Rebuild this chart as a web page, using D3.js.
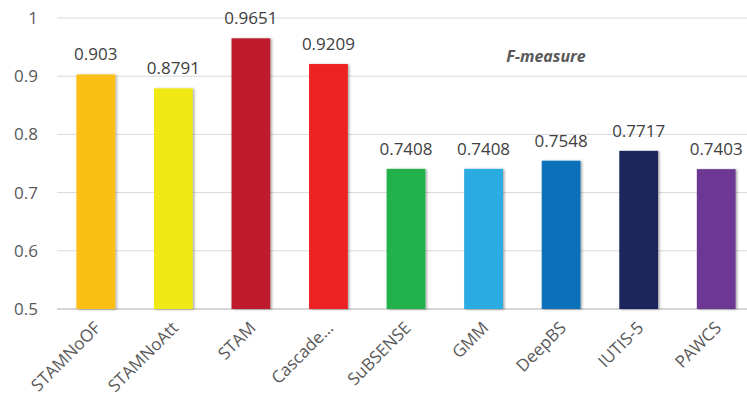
<!DOCTYPE html>
<html>
<head>
<meta charset="utf-8">
<script src="https://cdn.jsdelivr.net/npm/d3@7"></script>
<style>
  body { margin: 0; background: #fff; }
  text { font-family: "Open Sans", "Liberation Sans", sans-serif; }
</style>
</head>
<body>
<div id="chart"></div>
<script>
const methods = ['STAMNoOF', 'STAMNoAtt', 'STAM', 'Cascade...', 'SuBSENSE', 'GMM', 'DeepBS', 'IUTIS-5', 'PAWCS']
const fmeasure = [0.903, 0.8791, 0.9651, 0.9209, 0.7408, 0.7408, 0.7548, 0.7717, 0.7403]
const barColors = ['#fbbf12', '#f1e917', '#be1e2d', '#ee2024', '#22b14c', '#29abe2', '#1070ba', '#1d285c', '#6c3794']
const yTicks = [0.5, 0.6, 0.7, 0.8, 0.9, 1]

const width = 747, height = 400
const margin = { top: 18, right: -8, bottom: 91, left: 57 }

const svg = d3.select('#chart').append('svg')
  .attr('width', width).attr('height', height)

// soft shadow like the office chart
const defs = svg.append('defs')
const f = defs.append('filter').attr('id', 'shadow')
  .attr('x', '-20%').attr('y', '-5%').attr('width', '150%').attr('height', '110%')
f.append('feDropShadow').attr('dx', 1.5).attr('dy', 0.5).attr('stdDeviation', 1.2)
  .attr('flood-color', '#000').attr('flood-opacity', 0.35)

const x = d3.scaleBand()
  .domain(methods)
  .range([margin.left, width - margin.right])
  .paddingInner(0.5).paddingOuter(0.25)

const y = d3.scaleLinear()
  .domain([0.5, 1])
  .range([height - margin.bottom, margin.top])

// gridlines
svg.append('g')
  .selectAll('line')
  .data(yTicks)
  .join('line')
  .attr('x1', margin.left).attr('x2', width)
  .attr('y1', d => y(d)).attr('y2', d => y(d))
  .attr('stroke', d => d === 0.5 ? '#c8c8c8' : '#d9d9d9')
  .attr('stroke-width', d => d === 0.5 ? 1.5 : 1)

// y axis labels
const yAxis = d3.axisLeft(y).tickValues(yTicks).tickSize(0).tickPadding(19)
  .tickFormat(d => d3.format('')(d))
svg.append('g')
  .attr('transform', `translate(${margin.left},0)`)
  .call(yAxis)
  .call(g => g.select('.domain').remove())
  .selectAll('text')
  .attr('fill', '#595959')
  .style('font-size', '17px')

// bars
svg.append('g')
  .selectAll('rect')
  .data(methods)
  .join('rect')
  .attr('x', d => x(d))
  .attr('width', x.bandwidth())
  .attr('y', (d, i) => y(fmeasure[i]))
  .attr('height', (d, i) => y(0.5) - y(fmeasure[i]))
  .attr('fill', (d, i) => barColors[i])
  .attr('filter', 'url(#shadow)')

// value labels
svg.append('g')
  .selectAll('text')
  .data(methods)
  .join('text')
  .attr('x', d => x(d) + x.bandwidth() / 2)
  .attr('y', (d, i) => y(fmeasure[i]) - 14)
  .attr('text-anchor', 'middle')
  .attr('fill', '#404040')
  .style('font-size', '17px')
  .text((d, i) => fmeasure[i])

// category labels rotated
const xAxis = d3.axisBottom(x).tickSize(0).tickPadding(0)
svg.append('g')
  .attr('transform', `translate(0,${y(0.5)})`)
  .call(xAxis)
  .call(g => g.select('.domain').remove())
  .selectAll('text')
  .attr('fill', '#595959')
  .style('font-size', '17px')
  .attr('text-anchor', 'end')
  .attr('dy', 0)
  .attr('transform', 'translate(6,20) rotate(-45)')

// title-ish label
svg.append('text')
  .attr('x', 546).attr('y', 62)
  .attr('text-anchor', 'middle')
  .attr('fill', '#595959')
  .style('font-size', '16px')
  .style('font-weight', 'bold')
  .style('font-style', 'italic')
  .text('F-measure')
</script>
</body>
</html>
